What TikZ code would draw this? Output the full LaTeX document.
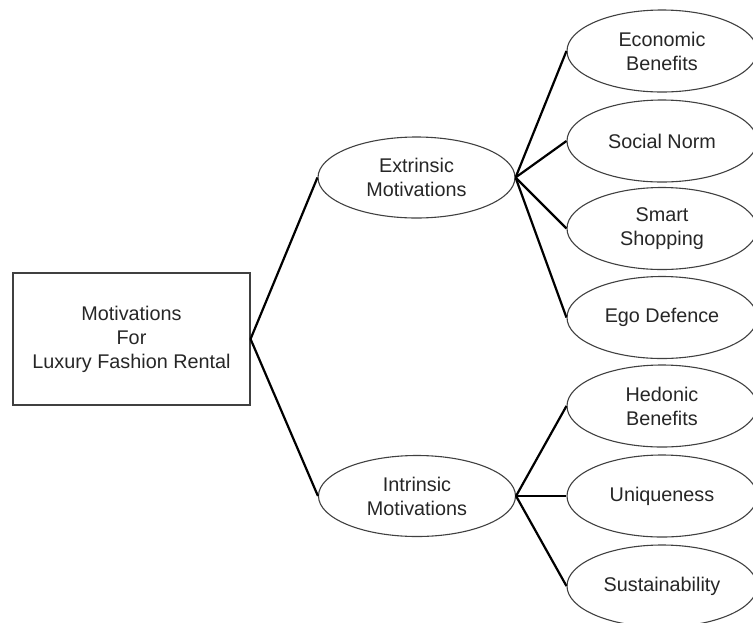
\documentclass[tikz,border=0pt]{standalone}
\usepackage{fontspec}
\setmainfont{Liberation Sans}
\usetikzlibrary{shapes.geometric}
\begin{document}
\begin{tikzpicture}[x=1pt,y=-1pt,
  lbl/.style={text=black!85, align=center, font=\fontsize{19.8}{24}\selectfont},
  rootbox/.style={lbl, draw=black!75, line width=1.1pt, rectangle, minimum width=237pt, minimum height=132pt, inner sep=0pt},
  midell/.style={lbl, draw=black!75, line width=1.1pt, ellipse, minimum width=197pt, minimum height=81pt, inner sep=0pt},
  leafell/.style={lbl, draw=black!75, line width=1.1pt, ellipse, minimum width=190pt, minimum height=82pt, inner sep=0pt},
  conn/.style={draw=black, line width=2.2pt}]
\useasboundingbox (0,0) rectangle (753,622);
\node[rootbox] (root) at (131.5,339) {Motivations\\For\\Luxury Fashion Rental};
\node[midell] (ext) at (416.5,177.5) {Extrinsic\\Motivations};
\node[midell] (int) at (417,496) {Intrinsic\\Motivations};
\node[leafell] (eco) at (662,51) {Economic\\Benefits};
\node[leafell] (soc) at (662,141) {Social Norm};
\node[leafell] (sma) at (662,228.5) {Smart\\Shopping};
\node[leafell] (ego) at (662,317.5) {Ego Defence};
\node[leafell] (hed) at (662,406) {Hedonic\\Benefits};
\node[leafell] (uni) at (662,496) {Uniqueness};
\node[leafell] (sus) at (662,586) {Sustainability};
\draw[conn] (root.east) -- (ext.west);
\draw[conn] (root.east) -- (int.west);
\foreach \n in {eco,soc,sma,ego} \draw[conn] (ext.east) -- (\n.west);
\foreach \n in {hed,uni,sus} \draw[conn] (int.east) -- (\n.west);
\end{tikzpicture}
\end{document}
